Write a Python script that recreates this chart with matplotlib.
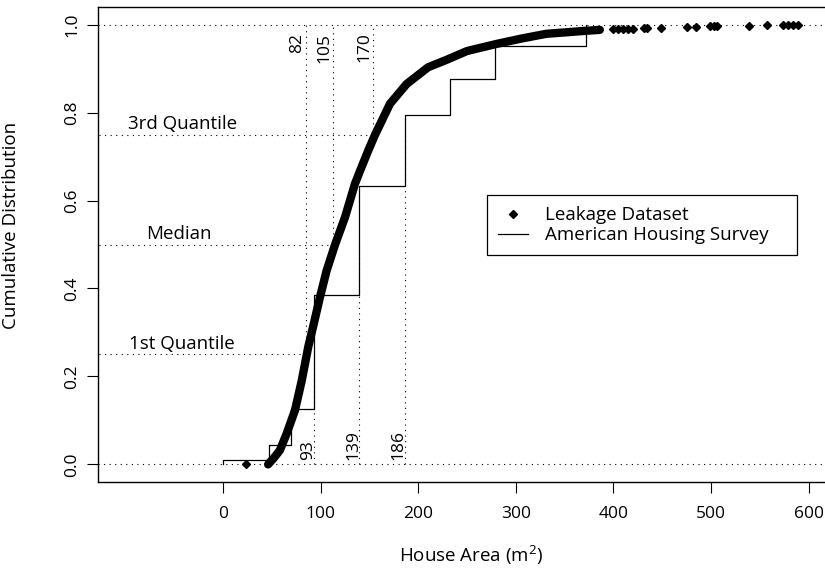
import matplotlib.pyplot as plt

plt.rcParams['font.family'] = ['Open Sans', 'DejaVu Sans']
plt.rcParams['mathtext.fontset'] = 'custom'
plt.rcParams['mathtext.rm'] = 'Open Sans'

# leakage dataset: cumulative distribution
leak_x = [46, 52, 58, 65, 73.5, 80.4, 87.1, 92.3, 99.1, 106, 114.5, 124.8, 135, 140.3,
          148.7, 155.5, 170.9, 188, 210, 229, 250, 280, 305, 331, 355, 372, 386]
leak_cdf = [0.0, 0.015, 0.032, 0.07, 0.123, 0.19, 0.267, 0.315, 0.38, 0.441, 0.499, 0.562,
            0.638, 0.668, 0.714, 0.749, 0.82, 0.865, 0.903, 0.92, 0.94, 0.956, 0.968,
            0.979, 0.983, 0.986, 0.988]

# leakage dataset: isolated points (low outlier and upper tail)
pts_x = [23.3, 400, 405, 410, 415, 420, 431, 434, 449, 475, 485, 499, 503, 506,
         539, 557, 574, 579, 584, 589]
pts_cdf = [0.0, 0.989, 0.989, 0.99, 0.99, 0.991, 0.992, 0.993, 0.993, 0.995, 0.995,
           0.996, 0.996, 0.996, 0.997, 0.998, 0.998, 0.999, 0.999, 1.0]

# American Housing Survey bins (step function)
ahs_edges = [0, 0, 46.45, 69.68, 92.9, 139.35, 185.8, 232.26, 278.71, 371.61]
ahs_cdf = [0, 0.011, 0.045, 0.127, 0.386, 0.632, 0.795, 0.877, 0.952, 1.0]

levels = [0.25, 0.5, 0.75]
level_names = ['1st Quantile', 'Median', '3rd Quantile']
level_name_x = [-42, -46, -42]
leak_q = [85, 112.8, 154]
leak_q_labels = ['82', '105', '170']
ahs_q = [92.9, 139.35, 185.8]
ahs_q_labels = ['93', '139', '186']

fs = 12.5   # tick labels and quantile values
fs2 = 13.5  # other text
dot = (0, (1, 4))

fig = plt.figure(figsize=(8.25, 5.69), dpi=100)
# right edge sits past the figure edge, as in the cropped original
ax = fig.add_axes([98 / 825, 87 / 569, 734 / 825, 475 / 569])

# reference lines
for yv in (0, 1):
    ax.axhline(yv, color='black', lw=0.8, ls=dot, zorder=1)
for lv, name, nx, lq, ll, aq, al in zip(levels, level_names, level_name_x,
                                         leak_q, leak_q_labels, ahs_q, ahs_q_labels):
    ax.hlines(lv, -300, lq, color='black', lw=0.8, ls=dot, zorder=1)
    ax.vlines(lq, lv, 1, color='black', lw=0.8, ls=dot, zorder=1)
    ax.vlines(aq, 0, lv, color='black', lw=0.8, ls=dot, zorder=1)
    ax.text(nx, lv + 0.012, name, ha='center', va='baseline', fontsize=fs2)
    ax.text(lq - 1, 0.982, ll, rotation=90, ha='right', va='top', fontsize=fs)
    ax.text(aq + 2, 0.009, al, rotation=90, ha='right', va='bottom', fontsize=fs)

step, = ax.step(ahs_edges, ahs_cdf, where='post', color='black', lw=0.9, zorder=2)
ax.plot(leak_x, leak_cdf, color='black', lw=6, solid_capstyle='round',
        solid_joinstyle='round', zorder=3)
pts, = ax.plot(pts_x, pts_cdf, ls='none', marker='D', ms=4.5, color='black', zorder=3)

ax.set_xlim(-128.4, 624)
ax.set_ylim(-0.04, 1.04)
ax.set_xticks(range(0, 601, 100))
ax.set_yticks([0, 0.2, 0.4, 0.6, 0.8, 1.0])
ax.set_yticklabels(['0.0', '0.2', '0.4', '0.6', '0.8', '1.0'])
ax.tick_params(axis='both', length=8, width=0.8, labelsize=fs, direction='out')
ax.tick_params(axis='x', pad=9)
ax.tick_params(axis='y', pad=5, labelrotation=90)
for lab in ax.get_yticklabels():
    lab.set_va('center')
for sp in ax.spines.values():
    sp.set_linewidth(1.0)
ax.spines['right'].set_visible(False)

ax.set_xlabel(r'House Area (m$^\mathregular{2}$)', fontsize=fs2)
ax.set_ylabel('Cumulative Distribution', fontsize=fs2)
ax.xaxis.set_label_coords(0.509, -0.128)
ax.yaxis.set_label_coords(-0.106, 0.541)

leg = ax.legend([pts, step], ['Leakage Dataset', 'American Housing Survey'],
                loc='upper left', bbox_to_anchor=(0.530, 0.604 - 0.124, 0.422, 0.124),
                mode='expand', borderaxespad=0, fontsize=fs2, fancybox=False,
                edgecolor='black', framealpha=1, handlelength=1.6, handletextpad=0.9,
                borderpad=0.6, labelspacing=0.1)
leg.get_frame().set_linewidth(0.9)

fig.savefig('out.png', dpi=100)
